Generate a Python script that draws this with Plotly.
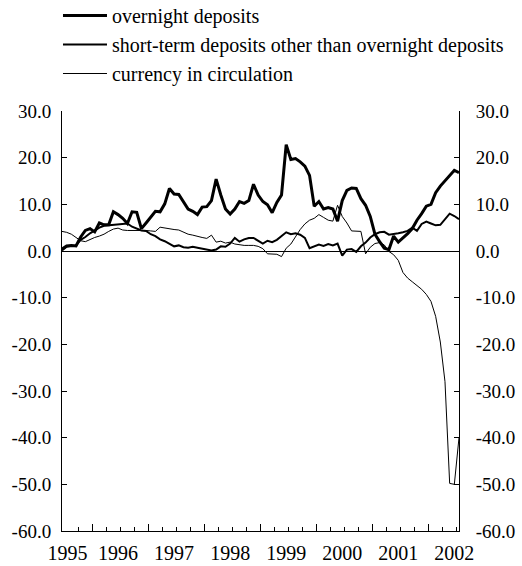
import plotly.graph_objects as go

# monthly data, Jan 1995 (index 0) to Feb 2002 (index 85)
months = list(range(86))

overnight = [
    0.4, 1.1, 1.2, 1.1, 3.0, 4.4, 4.8, 4.1, 6.0, 5.6,
    5.6, 8.4, 7.8, 7.0, 5.9, 8.4, 8.3, 4.8, 6.0, 7.3,
    8.5, 8.4, 10.1, 13.4, 12.2, 12.1, 10.5, 9.0, 8.5, 7.8,
    9.4, 9.5, 10.8, 15.4, 12.0, 9.0, 7.9, 9.0, 10.6, 10.2,
    10.8, 14.3, 12.0, 10.6, 9.9, 8.2, 10.4, 12.0, 22.8, 19.6,
    19.8, 19.1, 18.2, 16.2, 9.6, 10.6, 9.0, 9.3, 9.0, 6.4,
    10.8, 13.0, 13.5, 13.4, 11.2, 9.8, 7.4, 3.6, 2.0, 0.6,
    0.3, 3.2, 1.9, 2.7, 3.7, 4.8, 6.6, 8.0, 9.6, 10.0,
    12.5, 13.9, 15.1, 16.3, 17.3, 16.8,
]

short_term = [
    0.1, 0.9, 1.1, 1.2, 2.4, 3.0, 3.8, 4.4, 5.0, 5.4,
    5.5, 5.6, 5.8, 5.9, 5.9, 5.2, 4.8, 4.4, 4.3, 3.6,
    3.2, 2.5, 2.1, 1.6, 1.0, 1.2, 0.8, 0.7, 0.9, 0.7,
    0.5, 0.2, 0.1, 0.3, 1.0, 0.9, 1.6, 2.8, 2.0, 2.5,
    2.8, 2.8, 2.2, 1.6, 2.2, 1.9, 2.4, 3.3, 4.0, 3.6,
    3.8, 3.5, 2.8, 0.6, 1.0, 1.4, 1.1, 1.5, 1.2, 1.6,
    -1.0, 0.3, 0.4, -0.2, 1.0, 1.8, 2.9, 3.6, 4.0, 4.1,
    3.5, 3.6, 3.8, 4.0, 4.3, 5.0, 4.3, 5.8, 6.3, 5.9,
    5.5, 5.6, 6.7, 8.0, 7.5, 6.8,
]

currency = [
    4.2, 4.0, 3.6, 2.8, 2.2, 2.0, 2.5, 2.9, 3.2, 3.6,
    4.2, 4.7, 4.9, 4.5, 4.4, 4.4, 4.4, 4.5, 4.4, 4.3,
    4.2, 5.1, 4.9, 4.8, 4.6, 4.5, 4.1, 3.6, 3.4, 3.1,
    2.9, 2.7, 3.4, 1.9, 2.1, 1.7, 1.9, 1.5, 1.3, 1.2,
    1.2, 1.2, 1.0, 0.5, -0.6, -0.7, -0.7, -1.2, 0.6, 1.5,
    3.0, 4.6, 5.8, 6.6, 7.0, 7.8, 7.2, 6.6, 6.4, 9.8,
    7.4, 6.0, 4.3, 4.2, 4.2, -0.6, 0.8, 1.6, 1.8, 1.3,
    -0.1, -0.8, -2.0, -4.6, -5.8, -6.6, -7.4, -8.2, -9.3, -10.8,
    -14.0, -19.5, -28.0, -49.8, -50.0, -40.0,
]

series_names = [
    "overnight deposits",
    "short-term deposits other than overnight deposits",
    "currency in circulation",
]

year_labels = ["1995", "1996", "1997", "1998", "1999", "2000", "2001", "2002"]
year_positions = [1.2, 12, 24, 36, 48, 60, 72, 84]

y_ticks = [30, 20, 10, 0, -10, -20, -30, -40, -50, -60]
y_ticktext = ["30.0", "20.0", "10.0", "0.0", "-10.0", "-20.0", "-30.0", "-40.0", "-50.0", "-60.0"]

mid_year_ticks = [6.5 + 12 * j for j in range(7)]
quarter_ticks = [0.5 + 3 * j for j in range(1, 29) if (0.5 + 3 * j) not in mid_year_ticks]

FONT = "Liberation Serif"

fig = go.Figure()
fig.add_trace(go.Scatter(x=months, y=overnight, name=series_names[0], mode="lines",
                         line=dict(color="black", width=3), xaxis="x", yaxis="y"))
fig.add_trace(go.Scatter(x=months, y=short_term, name=series_names[1], mode="lines",
                         line=dict(color="black", width=2), xaxis="x", yaxis="y2"))
fig.add_trace(go.Scatter(x=months, y=currency, name=series_names[2], mode="lines",
                         line=dict(color="black", width=1), xaxis="x2", yaxis="y"))

xrange = [0, 85]
yrange = [-60, 30]

fig.update_layout(
    width=522, height=566,
    margin=dict(l=62, r=63, t=111, b=35, autoexpand=False),
    paper_bgcolor="white", plot_bgcolor="white",
    font=dict(family=FONT, color="black", size=20),
    showlegend=True,
    legend=dict(x=-0.0101, y=1.2738, xanchor="left", yanchor="top",
                font=dict(family=FONT, size=20, color="black"),
                bgcolor="rgba(0,0,0,0)", borderwidth=0, itemwidth=44,
                tracegroupgap=0),
    xaxis=dict(range=xrange, tickmode="array", tickvals=year_positions, ticktext=year_labels,
               ticks="", showline=True, linecolor="black", linewidth=1,
               showgrid=False, zeroline=False, automargin=False,
               tickfont=dict(family=FONT, size=20, color="black"),
               ticklabelstandoff=4,
               minor=dict(tickmode="array", tickvals=quarter_ticks, ticks="inside",
                          ticklen=4, tickcolor="black", tickwidth=1, showgrid=False)),
    xaxis2=dict(range=xrange, overlaying="x", anchor="y", side="bottom",
                tickmode="array", tickvals=mid_year_ticks, ticks="inside", ticklen=7,
                tickcolor="black", tickwidth=1, showticklabels=False,
                showline=False, showgrid=False, zeroline=False, automargin=False),
    yaxis=dict(range=yrange, tickmode="array", tickvals=y_ticks, ticktext=y_ticktext,
               ticks="inside", ticklen=5, tickcolor="black", tickwidth=1,
               showline=True, linecolor="black", linewidth=1,
               showgrid=False, zeroline=True, zerolinecolor="black", zerolinewidth=1,
               automargin=False, ticklabelstandoff=6,
               tickfont=dict(family=FONT, size=19, color="black")),
    yaxis2=dict(range=yrange, overlaying="y", anchor="x", side="right",
                tickmode="array", tickvals=y_ticks, ticktext=y_ticktext,
                ticks="inside", ticklen=5, tickcolor="black", tickwidth=1,
                showline=True, linecolor="black", linewidth=1,
                showgrid=False, zeroline=False, automargin=False, ticklabelstandoff=12,
                tickfont=dict(family=FONT, size=19, color="black")),
)

# remove the default 8px page margin so the figure fills the window exactly
fig.write_html("out.html", config={"displayModeBar": False},
               post_script="document.body.style.margin='0px';")
